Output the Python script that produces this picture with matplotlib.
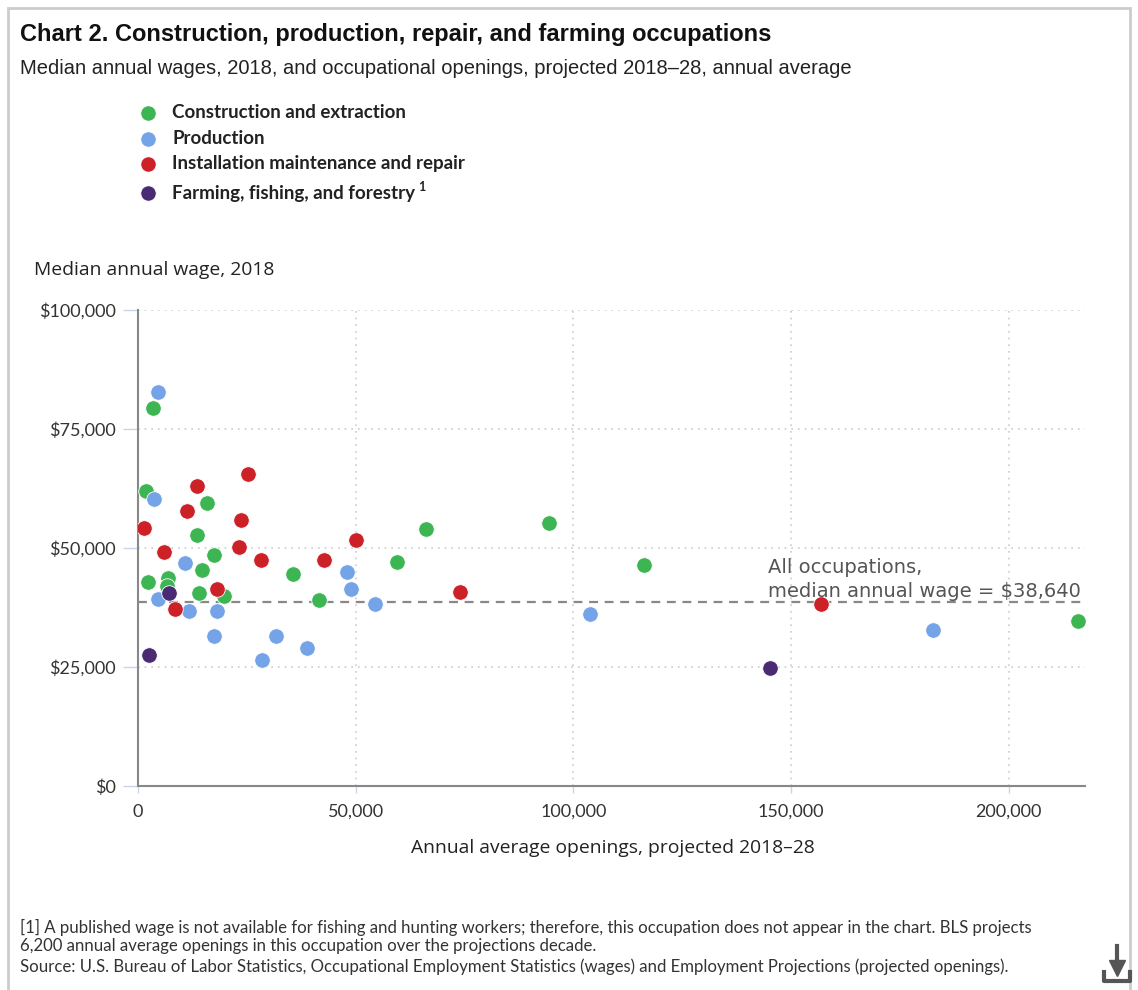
import matplotlib
matplotlib.use("Agg")
import matplotlib.pyplot as plt
from matplotlib.ticker import FuncFormatter, FixedLocator
from matplotlib.patches import Rectangle
from matplotlib.lines import Line2D

# ---- data (openings, wage) ----
series_names = ["Construction and extraction", "Production",
                "Installation maintenance and repair", "Farming, fishing, and forestry"]
series_colors = ["#3db553", "#74a3e8", "#cc2127", "#4a2a73"]

construction_x = [3400, 1800, 15900, 13500, 17400, 14600, 35600, 2200, 6900, 6700,
                  13900, 19800, 41500, 66100, 59500, 94500, 116300, 216000]
construction_y = [79500, 62000, 59500, 52800, 48500, 45300, 44600, 42900, 43600, 42000,
                  40600, 39900, 39000, 53900, 47100, 55300, 46400, 34700]

production_x = [4700, 3700, 10800, 48100, 48900, 4500, 11600, 18200, 54400, 17500,
                31800, 38900, 28400, 103800, 182500]
production_y = [82700, 60300, 46800, 45000, 41400, 39200, 36800, 36800, 38200, 31500,
                31500, 28900, 26500, 36100, 32800]

repair_x = [25200, 13500, 11200, 23600, 1400, 23200, 6000, 28300, 42700, 18100,
            8400, 73900, 50000, 156800]
repair_y = [65500, 63100, 57800, 55900, 54300, 50200, 49200, 47400, 47400, 41400,
            37100, 40700, 51700, 38200]

farming_x = [7200, 2600, 145100]
farming_y = [40600, 27500, 24700]

all_median = 38640
x_ticks = [0, 50000, 100000, 150000, 200000]
y_ticks = [0, 25000, 50000, 75000, 100000]

title = "Chart 2. Construction, production, repair, and farming occupations"
subtitle = "Median annual wages, 2018, and occupational openings, projected 2018\u201328, annual average"
y_label = "Median annual wage, 2018"
x_label = "Annual average openings, projected 2018\u201328"
footnotes = [
    "[1] A published wage is not available for fishing and hunting workers; therefore, this occupation does not appear in the chart. BLS projects",
    "6,200 annual average openings in this occupation over the projections decade.",
    "Source: U.S. Bureau of Labor Statistics, Occupational Employment Statistics (wages) and Employment Projections (projected openings).",
]

W, H = 1138, 990
fig = plt.figure(figsize=(W / 100, H / 100), dpi=100)
fig.patch.set_facecolor("white")

def fx(px):
    return px / W

def fy(py):
    return 1 - py / H

# outer frame
fig.add_artist(Rectangle((fx(8), fy(1000)), fx(1122), (1000 - 8) / H, transform=fig.transFigure,
                         fill=False, edgecolor="#cccccc", linewidth=2))

ax = fig.add_axes([fx(138), fy(786), fx(1085 - 138), (786 - 310) / H])
ax.set_xlim(0, 217500)
ax.set_ylim(0, 100000)

groups = [(construction_x, construction_y), (production_x, production_y),
          (repair_x, repair_y), (farming_x, farming_y)]
for (gx, gy), c in zip(groups, series_colors):
    ax.scatter(gx, gy, s=125, color=c, edgecolors="white", linewidths=0.6, zorder=3)

ax.axhline(all_median, color="#888888", linestyle=(0, (4, 3)), linewidth=1.6, zorder=2)
ax.text(144600, 38900, "All occupations,\nmedian annual wage = $38,640",
        fontsize=14, color="#555555", family="DejaVu Sans", ha="left", va="bottom",
        linespacing=1.3, zorder=4)

ax.xaxis.set_major_locator(FixedLocator(x_ticks))
ax.yaxis.set_major_locator(FixedLocator(y_ticks))
ax.xaxis.set_major_formatter(FuncFormatter(lambda v, p: f"{int(v):,}"))
ax.yaxis.set_major_formatter(FuncFormatter(lambda v, p: f"${int(v):,}"))

for v in x_ticks[1:]:
    ax.axvline(v, color="#cccccc", linestyle=(0, (1, 3)), linewidth=1.2, zorder=1)
for v in y_ticks[1:]:
    ax.axhline(v, color="#cccccc", linestyle=(0, (1, 3)), linewidth=1.2, zorder=1)

for s in ["top", "right"]:
    ax.spines[s].set_visible(False)
ax.spines["left"].set_color("#888888")
ax.spines["bottom"].set_color("#888888")
ax.spines["left"].set_linewidth(1.5)
ax.spines["bottom"].set_linewidth(1.5)

ax.tick_params(axis="y", length=11, width=1, color="#c7d6ea", pad=5, labelsize=13, labelcolor="#333333")
ax.tick_params(axis="x", length=5, width=1, color="#c7d6ea", pad=8, labelsize=13, labelcolor="#333333")
for lab in ax.get_xticklabels() + ax.get_yticklabels():
    lab.set_family("Lato")

# titles
fig.text(fx(20), fy(34), title, fontsize=17, fontweight="bold", family="Liberation Sans",
         color="#111111", va="center", ha="left")
fig.text(fx(20), fy(68), subtitle, fontsize=14.5, family="Liberation Sans",
         color="#222222", va="center", ha="left")

# legend
leg_y = [113, 139, 164, 193]
last = None
for name, c, py in zip(series_names, series_colors, leg_y):
    fig.add_artist(Line2D([fx(148)], [fy(py)], marker="o", markersize=11, color=c,
                          markeredgecolor="white", markeredgewidth=0.5, transform=fig.transFigure))
    last = fig.text(fx(172), fy(py), name, fontsize=13.5, fontweight="bold", family="Lato",
                    color="#222222", va="center", ha="left")
fig.text(fx(418), fy(187), "1", fontsize=9, fontweight="bold", family="Lato",
         color="#222222", va="center", ha="left")

fig.text(fx(34), fy(270), y_label, fontsize=13.9, family="Open Sans", color="#222222",
         va="center", ha="left")
fig.text(fx(613), fy(848), x_label, fontsize=13.9, family="Open Sans", color="#222222",
         va="center", ha="center")

for txt, py in zip(footnotes, [927, 946, 967]):
    fig.text(fx(20), fy(py), txt, fontsize=12.1, family="Lato", color="#333333",
             va="center", ha="left")

# download icon
fig.add_artist(Line2D([fx(1117), fx(1117)], [fy(946), fy(966)], color="#555555", linewidth=3,
                      transform=fig.transFigure))
fig.add_artist(Line2D([fx(1117)], [fy(968)], marker="v", markersize=11, color="#555555",
                      transform=fig.transFigure))
fig.add_artist(Line2D([fx(1104), fx(1104), fx(1130), fx(1130)], [fy(972), fy(981), fy(981), fy(972)],
                      color="#555555", linewidth=3, transform=fig.transFigure))

fig.savefig("out.png", dpi=100, facecolor="white")
